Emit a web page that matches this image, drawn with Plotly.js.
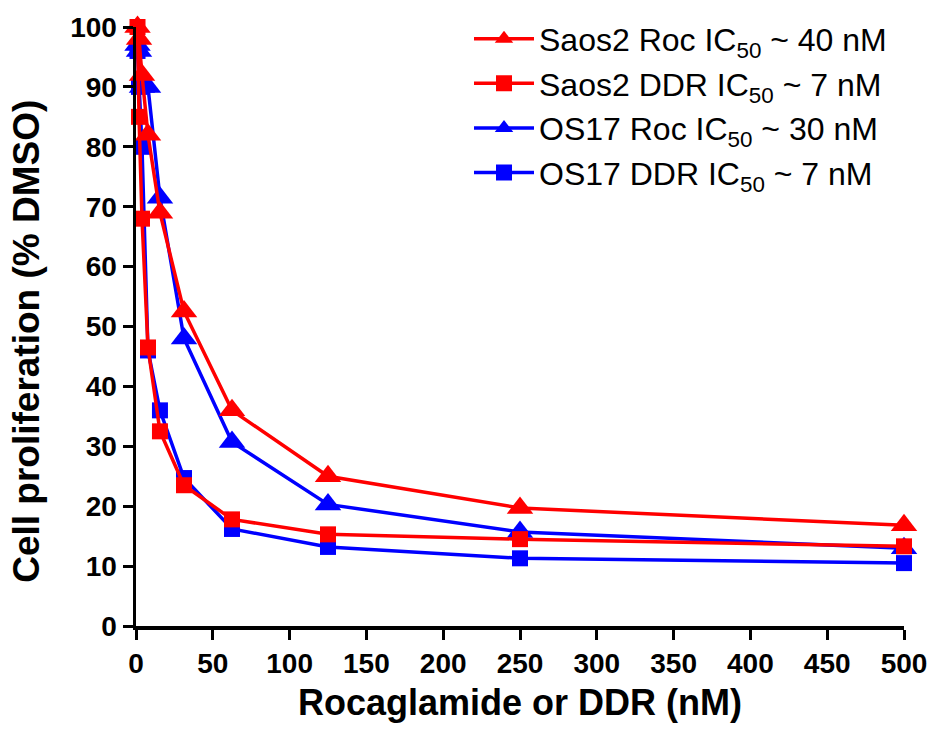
<!DOCTYPE html>
<html>
<head>
<meta charset="utf-8">
<script src="https://cdn.plot.ly/plotly-3.0.1.min.js"></script>
<style>html,body{margin:0;padding:0;background:#fff;}#chart{width:935px;height:735px;}</style>
</head>
<body>
<div id="chart"></div>
<script>
var concentrations = [0.98, 1.95, 3.9, 7.8, 15.6, 31.25, 62.5, 125, 250, 500];
var saos2Roc = [100, 98, 92, 82, 69, 52.5, 36, 25, 19.7, 16.8];
var saos2DDR = [100, 85, 68, 46.5, 32.5, 23.5, 17.8, 15.3, 14.5, 13.3];
var os17Roc  = [97, 96, 90, 90, 71.5, 48, 30.7, 20.3, 15.7, 13];
var os17DDR  = [96, 90, 80, 46, 36, 24.7, 16.2, 13.2, 11.3, 10.5];
var seriesNames = [
  'Saos2 Roc IC<sub>50</sub> ~ 40 nM',
  'Saos2 DDR IC<sub>50</sub> ~ 7 nM',
  'OS17 Roc IC<sub>50</sub> ~ 30 nM',
  'OS17 DDR IC<sub>50</sub> ~ 7 nM'
];
var xTicks = [0, 50, 100, 150, 200, 250, 300, 350, 400, 450, 500];
var yTicks = [0, 10, 20, 30, 40, 50, 60, 70, 80, 90, 100];
var xTitle = 'Rocaglamide or DDR (nM)';
var yTitle = 'Cell proliferation (% DMSO)';

var RED = '#ff0000', BLUE = '#0000ff';
function tr(y, name, color, sym, size) {
  return {
    x: concentrations, y: y, name: name, type: 'scatter', mode: 'lines+markers',
    line: {color: color, width: 3.5},
    marker: {color: color, symbol: sym, size: size},
    cliponaxis: false
  };
}
var data = [
  tr(os17DDR, seriesNames[3], BLUE, 'square', 16),
  tr(os17Roc, seriesNames[2], BLUE, 'triangle-up', 23),
  tr(saos2DDR, seriesNames[1], RED, 'square', 16),
  tr(saos2Roc, seriesNames[0], RED, 'triangle-up', 23)
];
var FONT = 'Liberation Sans, Arial, sans-serif';
var layout = {
  width: 935, height: 735,
  margin: {l: 136, r: 31, t: 27, b: 109, autoexpand: false},
  paper_bgcolor: '#fff', plot_bgcolor: '#fff',
  showlegend: true,
  legend: {
    x: 0.4336, y: 1.026, xanchor: 'left', yanchor: 'top',
    traceorder: 'reversed',
    itemwidth: 60,
    font: {family: FONT, size: 32, color: '#000'},
    bgcolor: 'rgba(0,0,0,0)',
    tracegroupgap: 0
  },
  xaxis: {
    range: [0, 500], tickvals: xTicks, ticktext: xTicks.map(String),
    showgrid: false, zeroline: false, showline: true, linecolor: '#000', linewidth: 3.5,
    ticks: 'outside', ticklen: 10, tickwidth: 3, tickcolor: '#000',
    tickfont: {family: FONT, size: 28, color: '#000', weight: 'bold'},
    title: {text: '<b>' + xTitle + '</b>', font: {family: FONT, size: 36, color: '#000'}, standoff: 12}
  },
  yaxis: {
    range: [0, 100], tickvals: yTicks, ticktext: yTicks.map(String),
    showgrid: false, zeroline: false, showline: true, linecolor: '#000', linewidth: 3.5,
    ticks: 'outside', ticklen: 10, tickwidth: 3, tickcolor: '#000',
    tickfont: {family: FONT, size: 28, color: '#000', weight: 'bold'}
  },
  annotations: [{
    text: '<b>' + yTitle + '</b>', xref: 'paper', yref: 'paper',
    x: -0.142, y: 0.476, xanchor: 'center', yanchor: 'middle',
    textangle: -90, showarrow: false,
    font: {family: FONT, size: 37, color: '#000'}
  }]
};
Plotly.newPlot('chart', data, layout, {staticPlot: true, displayModeBar: false});
</script>
</body>
</html>
